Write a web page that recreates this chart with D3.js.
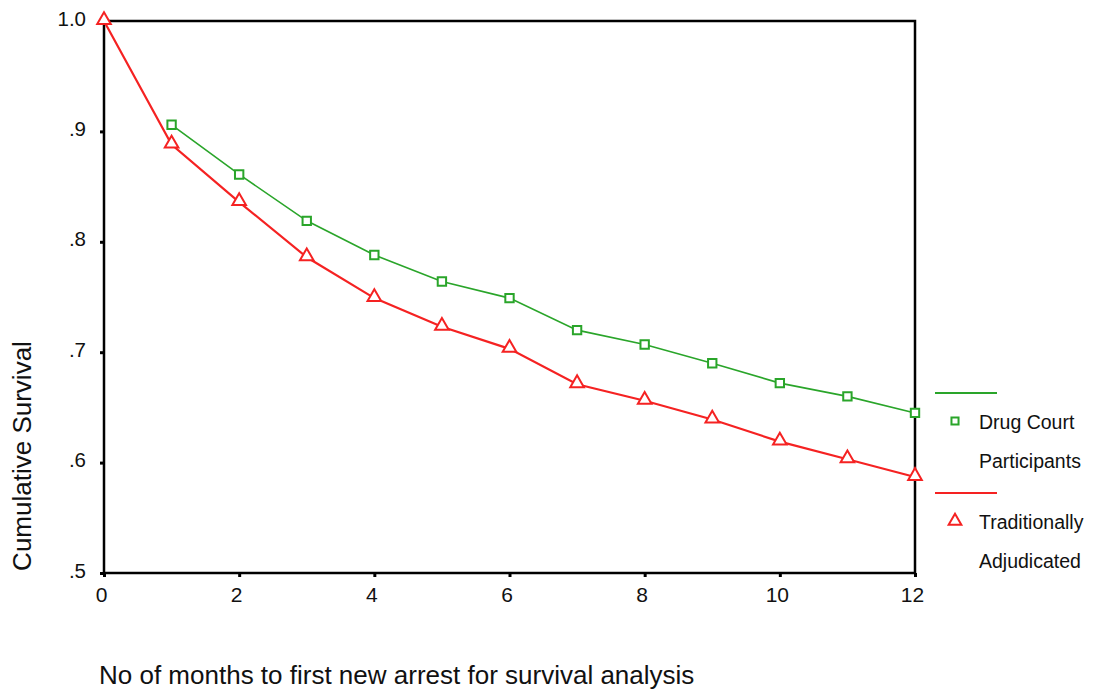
<!DOCTYPE html>
<html>
<head>
<meta charset="utf-8">
<script src="https://cdn.jsdelivr.net/npm/d3@7"></script>
<style>
  body { margin: 0; background: #fff; }
  svg text { font-family: "Liberation Sans", Arial, sans-serif; fill: #111; }
</style>
</head>
<body>
<svg width="1094" height="696"></svg>
<script>
const months = [0, 1, 2, 3, 4, 5, 6, 7, 8, 9, 10, 11, 12];
const drugCourt = [null, .906, .861, .819, .788, .764, .749, .720, .707, .690, .672, .660, .645];
const traditional = [1.0, .888, .836, .786, .749, .723, .703, .671, .656, .639, .619, .603, .587];
const yTicks = [.5, .6, .7, .8, .9, 1.0];
const yTickLabels = [".5", ".6", ".7", ".8", ".9", "1.0"];
const xTicks = [0, 2, 4, 6, 8, 10, 12];

const svg = d3.select("svg"),
      margin = { top: 21, right: 179, bottom: 123, left: 104 },
      width = +svg.attr("width") - margin.left - margin.right,
      height = +svg.attr("height") - margin.top - margin.bottom;

const chart = svg.append("g")
    .attr("transform", `translate(${margin.left},${margin.top})`);

const x = d3.scaleLinear().domain([0, 12]).range([0, width]);
const y = d3.scaleLinear().domain([.5, 1.0]).range([height, 0]);

// frame
chart.append("rect")
    .attr("width", width).attr("height", height)
    .attr("fill", "none").attr("stroke", "#000").attr("stroke-width", 2.5);

chart.append("g")
    .attr("transform", `translate(0,${height})`)
    .call(d3.axisBottom(x).tickValues(xTicks).tickSize(4).tickPadding(10))
    .call(g => g.select(".domain").remove())
    .call(g => g.selectAll("line").attr("stroke-width", 3))
    .selectAll("text").attr("font-size", 21).attr("dx", -3);

chart.append("g")
    .call(d3.axisLeft(y).tickValues(yTicks).tickFormat((d, i) => yTickLabels[i]).tickSize(4).tickPadding(14))
    .call(g => g.select(".domain").remove())
    .call(g => g.selectAll("line").attr("stroke-width", 3))
    .selectAll("text").attr("font-size", 20.5).attr("dy", "0.2em");

const series = [
  { name: "drug", values: drugCourt, color: "#2aa52a", width: 1.6, shape: "square" },
  { name: "trad", values: traditional, color: "#f52222", width: 2.2, shape: "triangle" }
];

const line = d3.line()
    .defined(d => d.v != null)
    .x(d => x(d.m))
    .y(d => y(d.v));

series.forEach(s => {
  const pts = months.map((m, i) => ({ m, v: s.values[i] }));
  chart.append("path")
      .datum(pts)
      .attr("fill", "none")
      .attr("stroke", s.color)
      .attr("stroke-width", s.width)
      .attr("d", line);

  const sym = d3.symbol()
      .type(s.shape === "square" ? d3.symbolSquare : d3.symbolTriangle)
      .size(s.shape === "square" ? 70 : 80);

  chart.selectAll(".pt-" + s.name)
      .data(pts.filter(d => d.v != null))
      .enter()
      .append("path")
      .attr("class", "pt-" + s.name)
      .attr("d", sym)
      .attr("transform", d => `translate(${x(d.m)},${y(d.v) + (s.shape === "triangle" ? -1 : 0)})`)
      .attr("fill", "#fff")
      .attr("stroke", s.color)
      .attr("stroke-width", 2);
});

// legend
const legend = svg.append("g");
const legendItems = [
  { color: "#2aa52a", shape: "square", lines: ["Drug Court", "Participants"], top: 393 },
  { color: "#f52222", shape: "triangle", lines: ["Traditionally", "Adjudicated"], top: 493 }
];
legendItems.forEach(it => {
  legend.append("line")
      .attr("x1", 935).attr("x2", 997)
      .attr("y1", it.top).attr("y2", it.top)
      .attr("stroke", it.color).attr("stroke-width", 2);
  legend.append("path")
      .attr("d", d3.symbol().type(it.shape === "square" ? d3.symbolSquare : d3.symbolTriangle).size(it.shape === "square" ? 50 : 70))
      .attr("transform", `translate(955,${it.top + 28})`)
      .attr("fill", "#fff").attr("stroke", it.color).attr("stroke-width", 2);
  it.lines.forEach((t, i) => {
    legend.append("text")
        .attr("x", 979).attr("y", it.top + 36 + i * 39)
        .attr("font-size", 19.5)
        .text(t);
  });
});

// axis titles
svg.append("text")
    .attr("transform", "translate(31,456) rotate(-90)")
    .attr("text-anchor", "middle")
    .attr("font-size", 26)
    .text("Cumulative Survival");

svg.append("text")
    .attr("x", 99).attr("y", 684)
    .attr("font-size", 26)
    .text("No of months to first new arrest for survival analysis");
</script>
</body>
</html>
